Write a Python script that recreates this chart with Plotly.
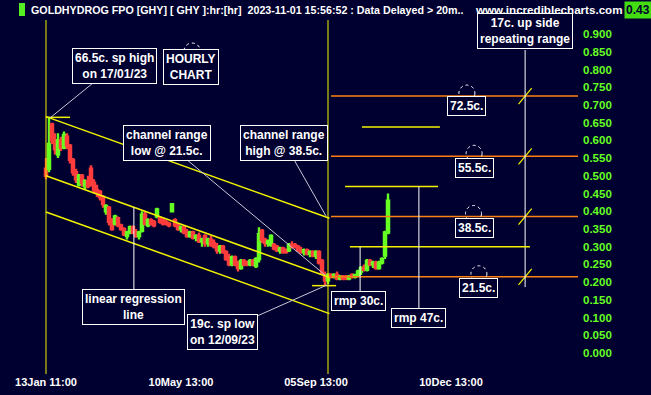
import plotly.graph_objects as go

# ---------------- data (hourly bars, index = bar number) ----------------
bar_index = list(range(115))
open_ = [0.52, 0.52, 0.645, 0.60, 0.56, 0.60, 0.58, 0.61, 0.585, 0.545,
         0.51, 0.475, 0.50, 0.47, 0.485, 0.52, 0.48, 0.46, 0.455, 0.44,
         0.40, 0.41, 0.37, 0.365, 0.38, 0.36, 0.35, 0.33, 0.34, 0.355,
         0.34, 0.33, 0.345, 0.39, 0.36, 0.375, 0.37, 0.385, 0.38, 0.375,
         0.37, 0.365, 0.40, 0.375, 0.36, 0.35, 0.355, 0.34, 0.33, 0.34,
         0.325, 0.33, 0.315, 0.33, 0.31, 0.32, 0.31, 0.30, 0.29, 0.30,
         0.285, 0.265, 0.25, 0.27, 0.255, 0.24, 0.26, 0.255, 0.25, 0.26,
         0.245, 0.265, 0.345, 0.32, 0.31, 0.305, 0.305, 0.30, 0.29, 0.295,
         0.29, 0.29, 0.305, 0.305, 0.30, 0.29, 0.285, 0.29, 0.28, 0.285,
         0.275, 0.285, 0.26, 0.22, 0.205, 0.22, 0.215, 0.22, 0.21, 0.215,
         0.215, 0.21, 0.22, 0.215, 0.22, 0.23, 0.24, 0.235, 0.26, 0.25,
         0.255, 0.24, 0.255, 0.275, 0.34]
high = [0.55, 0.665, 0.65, 0.62, 0.62, 0.61, 0.625, 0.62, 0.59, 0.55,
        0.52, 0.505, 0.505, 0.49, 0.50, 0.53, 0.49, 0.475, 0.46, 0.445,
        0.42, 0.415, 0.38, 0.39, 0.385, 0.365, 0.355, 0.345, 0.36, 0.36,
        0.35, 0.345, 0.40, 0.40, 0.38, 0.38, 0.375, 0.41, 0.385, 0.38,
        0.375, 0.37, 0.42, 0.38, 0.365, 0.36, 0.36, 0.35, 0.345, 0.345,
        0.335, 0.34, 0.325, 0.335, 0.325, 0.33, 0.32, 0.31, 0.305, 0.305,
        0.29, 0.28, 0.275, 0.275, 0.26, 0.265, 0.265, 0.26, 0.265, 0.265,
        0.27, 0.355, 0.35, 0.325, 0.32, 0.335, 0.31, 0.305, 0.30, 0.30,
        0.295, 0.31, 0.315, 0.31, 0.305, 0.30, 0.295, 0.295, 0.29, 0.29,
        0.29, 0.29, 0.265, 0.23, 0.225, 0.225, 0.225, 0.23, 0.22, 0.22,
        0.22, 0.22, 0.225, 0.22, 0.235, 0.245, 0.25, 0.265, 0.265, 0.26,
        0.26, 0.26, 0.27, 0.345, 0.45]
low = [0.49, 0.51, 0.59, 0.56, 0.55, 0.57, 0.575, 0.575, 0.535, 0.50,
       0.48, 0.47, 0.47, 0.46, 0.465, 0.47, 0.45, 0.44, 0.43, 0.41,
       0.39, 0.36, 0.345, 0.36, 0.355, 0.345, 0.33, 0.32, 0.335, 0.335,
       0.325, 0.32, 0.34, 0.36, 0.355, 0.36, 0.355, 0.38, 0.365, 0.36,
       0.36, 0.355, 0.40, 0.355, 0.345, 0.34, 0.335, 0.325, 0.325, 0.32,
       0.315, 0.31, 0.30, 0.30, 0.30, 0.30, 0.295, 0.28, 0.28, 0.28,
       0.26, 0.245, 0.245, 0.245, 0.23, 0.235, 0.245, 0.245, 0.245, 0.245,
       0.24, 0.255, 0.31, 0.30, 0.30, 0.30, 0.29, 0.285, 0.28, 0.28,
       0.28, 0.285, 0.295, 0.295, 0.285, 0.28, 0.275, 0.275, 0.27, 0.27,
       0.265, 0.25, 0.22, 0.19, 0.195, 0.21, 0.21, 0.205, 0.205, 0.205,
       0.205, 0.205, 0.21, 0.21, 0.215, 0.22, 0.23, 0.23, 0.245, 0.24,
       0.235, 0.235, 0.25, 0.265, 0.335]
close = [0.50, 0.59, 0.60, 0.575, 0.60, 0.58, 0.615, 0.585, 0.545, 0.51,
         0.49, 0.50, 0.48, 0.485, 0.47, 0.48, 0.46, 0.455, 0.44, 0.42,
         0.415, 0.37, 0.35, 0.385, 0.36, 0.35, 0.335, 0.34, 0.355, 0.34,
         0.33, 0.34, 0.39, 0.365, 0.375, 0.365, 0.36, 0.405, 0.37, 0.365,
         0.365, 0.36, 0.42, 0.36, 0.35, 0.355, 0.34, 0.33, 0.34, 0.325,
         0.33, 0.315, 0.32, 0.31, 0.32, 0.305, 0.30, 0.29, 0.30, 0.285,
         0.265, 0.25, 0.27, 0.25, 0.24, 0.26, 0.25, 0.25, 0.26, 0.25,
         0.265, 0.335, 0.32, 0.31, 0.315, 0.33, 0.295, 0.29, 0.295, 0.285,
         0.285, 0.305, 0.30, 0.30, 0.29, 0.285, 0.29, 0.28, 0.285, 0.275,
         0.285, 0.255, 0.225, 0.205, 0.22, 0.215, 0.22, 0.21, 0.215, 0.21,
         0.21, 0.215, 0.215, 0.22, 0.23, 0.24, 0.235, 0.26, 0.25, 0.255,
         0.24, 0.255, 0.265, 0.34, 0.43]

tick_index = [0, 45, 90, 135]
tick_labels = ["13Jan 11:00", "10May 13:00", "05Sep 13:00", "10Dec 13:00"]
price_ticks = [0.0, 0.05, 0.1, 0.15, 0.2, 0.25, 0.3, 0.35, 0.4, 0.45,
               0.5, 0.55, 0.6, 0.65, 0.7, 0.75, 0.8, 0.85, 0.9]

# key points
sp_high = (0, 0.665)
sp_low = (93.5, 0.19)
low_bar = 94                      # 12/09/23 vertical marker
channel_start = (0, 0.667)        # upper channel start
channel_end = (94.5, 0.38)        # upper channel end
channel_mid_offset = -0.167
channel_low_offset = -0.269
levels = [0.215, 0.385, 0.555, 0.725]
level_labels = ["21.5c.", "38.5c.", "55.5c.", "72.5c."]
rmp_levels = [0.30, 0.47]
rmp_labels = ["rmp 30c.", "rmp 47c."]
extra_line_level = 0.638

# ---------------- styling ----------------
BG = "#000030"
YEL = "#f2f200"
ORG = "#ff7f10"
WHITE = "#ffffff"
GREY = "#c8c8d8"
GREEN = "#66ff22"
RED = "#ff3c3c"
FONT = "Liberation Sans, Arial, sans-serif"

XR = [-15.33, 177.33]
YR = [-0.0593, 0.9396]

fig = go.Figure()
fig.add_trace(go.Candlestick(
    x=bar_index, open=open_, high=high, low=low, close=close,
    increasing=dict(line=dict(color=GREEN, width=2.4), fillcolor=GREEN),
    decreasing=dict(line=dict(color=RED, width=2.4), fillcolor=RED),
    whiskerwidth=0, showlegend=False, hoverinfo="skip"))

shapes = []


def seg(x0, y0, x1, y1, color, width=1, dash="solid"):
    shapes.append(dict(type="line", xref="x", yref="y", x0=x0, y0=y0, x1=x1, y1=y1,
                       line=dict(color=color, width=width, dash=dash)))


# vertical markers
for vx in [0, low_bar]:
    shapes.append(dict(type="line", xref="x", yref="y domain", x0=vx, x1=vx, y0=0, y1=1,
                       line=dict(color=YEL, width=1)))

# channel lines
sx, sy = channel_start
ex, ey = channel_end
for off in [0, channel_mid_offset, channel_low_offset]:
    seg(sx, sy + off, ex, ey + off, YEL, 1.5)

# short markers at the sp high / low
seg(0, sp_high[1], 8, sp_high[1], YEL, 1.5)
seg(88.7, sp_low[1], 96.7, sp_low[1], YEL, 1.5)

# level lines (orange) and 17c. marker
range_x = 159.7
for lv in levels:
    seg(95, lv, XR[1], lv, ORG, 1.5)
    seg(range_x - 2.2, lv - 0.0226, range_x + 2.2, lv + 0.0226, YEL, 1.2)
seg(range_x, 0.186, range_x, 0.855, WHITE, 1)

# rmp lines
seg(101.3, rmp_levels[0], 161.3, rmp_levels[0], YEL, 1.5)
seg(99.7, rmp_levels[1], 130.7, rmp_levels[1], YEL, 1.5)
seg(105.3, extra_line_level, 131.3, extra_line_level, YEL, 1.5)
seg(104.7, rmp_levels[0], 104.7, 0.172, WHITE, 1)
seg(124.3, rmp_levels[1], 124.3, 0.124, WHITE, 1)

# regression connector
seg(29.3, 0.411, 29.3, 0.178, WHITE, 1)

# grey connectors
seg(15.7, 0.762, 1.3, 0.663, GREY, 1)
seg(47.0, 0.545, 93.0, 0.22, GREY, 1)
seg(82.7, 0.545, 93.3, 0.387, GREY, 1)
seg(70.3, 0.104, 93.7, 0.192, GREY, 1)


# dashed handle circles
def handle(x, y, y0=-5, y1=11):
    shapes.append(dict(type="circle", xref="x", yref="y", xsizemode="pixel", ysizemode="pixel",
                       xanchor=x, yanchor=y, x0=-8, x1=8, y0=y0, y1=y1,
                       line=dict(color=WHITE, width=1, dash="dot")))


handle(48.7, 0.852, -7, 8)
for lx, lv in zip([144.3, 142.5, 142.7, 140.3], levels):
    handle(lx, lv)

# title bar decoration (pixel -> paper)
PW, PH, T = 578.0, 354.0, 20.0


def px(x):
    return x / PW


def py(y):
    return 1 + (T - y) / PH


shapes.append(dict(type="rect", xref="paper", yref="paper", x0=px(19), x1=px(25),
                   y0=py(16), y1=py(3), fillcolor="#55ee22", line=dict(width=0)))

annotations = []


def box(text, x, y, size=12):
    annotations.append(dict(x=x, y=y, xref="x", yref="y", text="<b>" + text + "</b>",
                            showarrow=False, font=dict(color=WHITE, size=size, family=FONT),
                            bgcolor=BG, bordercolor=WHITE, borderwidth=1, borderpad=2,
                            xanchor="center", yanchor="middle", align="center"))


box("66.5c. sp high<br>on 17/01/23", 22.7, 0.81)
box("HOURLY<br>CHART", 48.3, 0.807)
box("channel range<br>low @ 21.5c.", 40.3, 0.593)
box("channel range<br>high @ 38.5c.", 79.2, 0.593)
box("linear regression<br>line", 29.2, 0.130)
box("19c. sp low<br>on 12/09/23", 58.8, 0.058)
box(rmp_labels[0], 104.3, 0.147)
box(rmp_labels[1], 124.0, 0.099)
box("17c. up side<br>repeating range", range_x, 0.909)
for lx, ly, lab in zip([144.3, 142.7, 142.7, 140.3], [0.182, 0.353, 0.522, 0.698], level_labels):
    box(lab, lx, ly)

annotations.append(dict(x=px(29), y=py(9.5), xref="paper", yref="paper", xanchor="left",
                        yanchor="middle", showarrow=False,
                        text="<b>GOLDHYDROG FPO [GHY] [ GHY ]:hr:[hr]  2023-11-01 15:56:52 : Data Delayed &gt; 20m..</b>",
                        font=dict(color=WHITE, size=10.7, family=FONT)))
annotations.append(dict(x=px(473), y=py(9.5), xref="paper", yref="paper", xanchor="left",
                        yanchor="middle", showarrow=False, text="<b>www.incrediblecharts.com</b>",
                        font=dict(color=WHITE, size=11.6, family=FONT)))
annotations.append(dict(x=px(637.5), y=py(9.5), xref="paper", yref="paper", xanchor="center",
                        yanchor="middle", showarrow=False, text="<b>%.2f</b>" % close[-1],
                        bgcolor="#44dd11", borderpad=1,
                        font=dict(color="#000030", size=12, family=FONT)))

fig.update_layout(
    width=651, height=395,
    margin=dict(l=0, r=73, t=20, b=21),
    paper_bgcolor=BG, plot_bgcolor=BG,
    shapes=shapes, annotations=annotations,
    showlegend=False, boxgap=0.0,
    xaxis=dict(range=XR, showgrid=False, zeroline=False, showline=False,
               rangeslider=dict(visible=False), tickmode="array",
               tickvals=tick_index, ticktext=["<b>%s</b>" % t for t in tick_labels],
               tickfont=dict(color=WHITE, size=11, family=FONT), ticks=""),
    yaxis=dict(range=YR, side="right", showgrid=False, zeroline=False, showline=False,
               tickmode="array", tickvals=price_ticks,
               ticktext=["<b>%.3f</b>" % v for v in price_ticks],
               tickfont=dict(color=GREEN, size=11.5, family=FONT), ticks="",
               ticklabelstandoff=4),
)

fig.write_html("out.html")
